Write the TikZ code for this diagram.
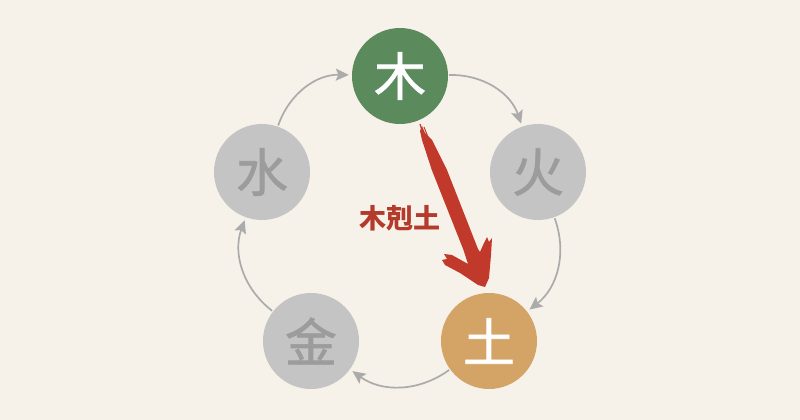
\documentclass[tikz,border=0pt]{standalone}
\usepackage{fontspec}
\newfontfamily\cjk{Noto Sans CJK SC}
\newfontfamily\cjkm[FakeBold=1.3]{Noto Sans CJK SC}
\usetikzlibrary{arrows.meta}
\definecolor{bg}{HTML}{F6F2E9}
\definecolor{mugreen}{HTML}{5B8B5C}
\definecolor{tutan}{HTML}{D3A465}
\definecolor{elgray}{HTML}{C4C4C4}
\definecolor{eltext}{HTML}{9C9C9C}
\definecolor{arrgray}{HTML}{ABABAB}
\definecolor{brushred}{HTML}{C0392B}
\definecolor{labelred}{HTML}{B43A2B}
\begin{document}
\begin{tikzpicture}[x=1pt,y=1pt,
  elem/.style={circle, minimum size=96pt, inner sep=0pt, font=\cjkm\fontsize{52}{52}\selectfont},
  grayel/.style={elem, fill=elgray, text=eltext},
  conn/.style={draw=arrgray, line width=1.7pt, -{Stealth[length=13pt,width=12pt,inset=2.5pt]}, shorten >=3pt, shorten <=1pt},
  brush/.style={fill=brushred, draw=none}]
\fill[bg] (0,0) rectangle (800,420);
\useasboundingbox (0,0) rectangle (800,420);

\node[elem, fill=mugreen, text=white] (mu) at (400,344) {木};
\node[grayel] (huo) at (538,248) {火};
\node[elem, fill=tutan, text=white] (tu) at (489,79) {土};
\node[grayel] (jin) at (311,79) {金};
\node[grayel] (shui) at (262,248) {水};

\draw[conn] (mu) to[bend left=36] (huo);
\draw[conn] (huo) to[bend left=36] (tu);
\draw[conn] (tu) to[bend left=36] (jin);
\draw[conn] (jin) to[bend left=36] (shui);
\draw[conn] (shui) to[bend left=36] (mu);

% brush-stroke arrow (pixel coords, y flipped)
\begin{scope}[shift={(0,420)}, yscale=-1]
\fill[brushred]
  (422,126) -- (425,133) -- (432,140) -- (447,170) -- (478,249) -- (480,252)
  -- (484,243) -- (487,237) -- (489,242) -- (492,238) -- (491,255) -- (489,278)
  -- (485,287) -- (478,285) -- (460,273) -- (445,265) -- (442,260) -- (447,259)
  -- (444,254) -- (452,255) -- (468,264) -- (463.5,250) -- (431.8,170)
  -- (422,140) -- (420,131) -- cycle;
\draw[brushred, line width=1.2pt] (420,124) -- (427,146);
\draw[brushred, line width=1pt] (424,127) -- (430,142);
\end{scope}

\node[font=\cjk\bfseries\fontsize{27}{27}\selectfont, text=labelred] (lbl) at (400,202) {木剋土};
\end{tikzpicture}
\end{document}
